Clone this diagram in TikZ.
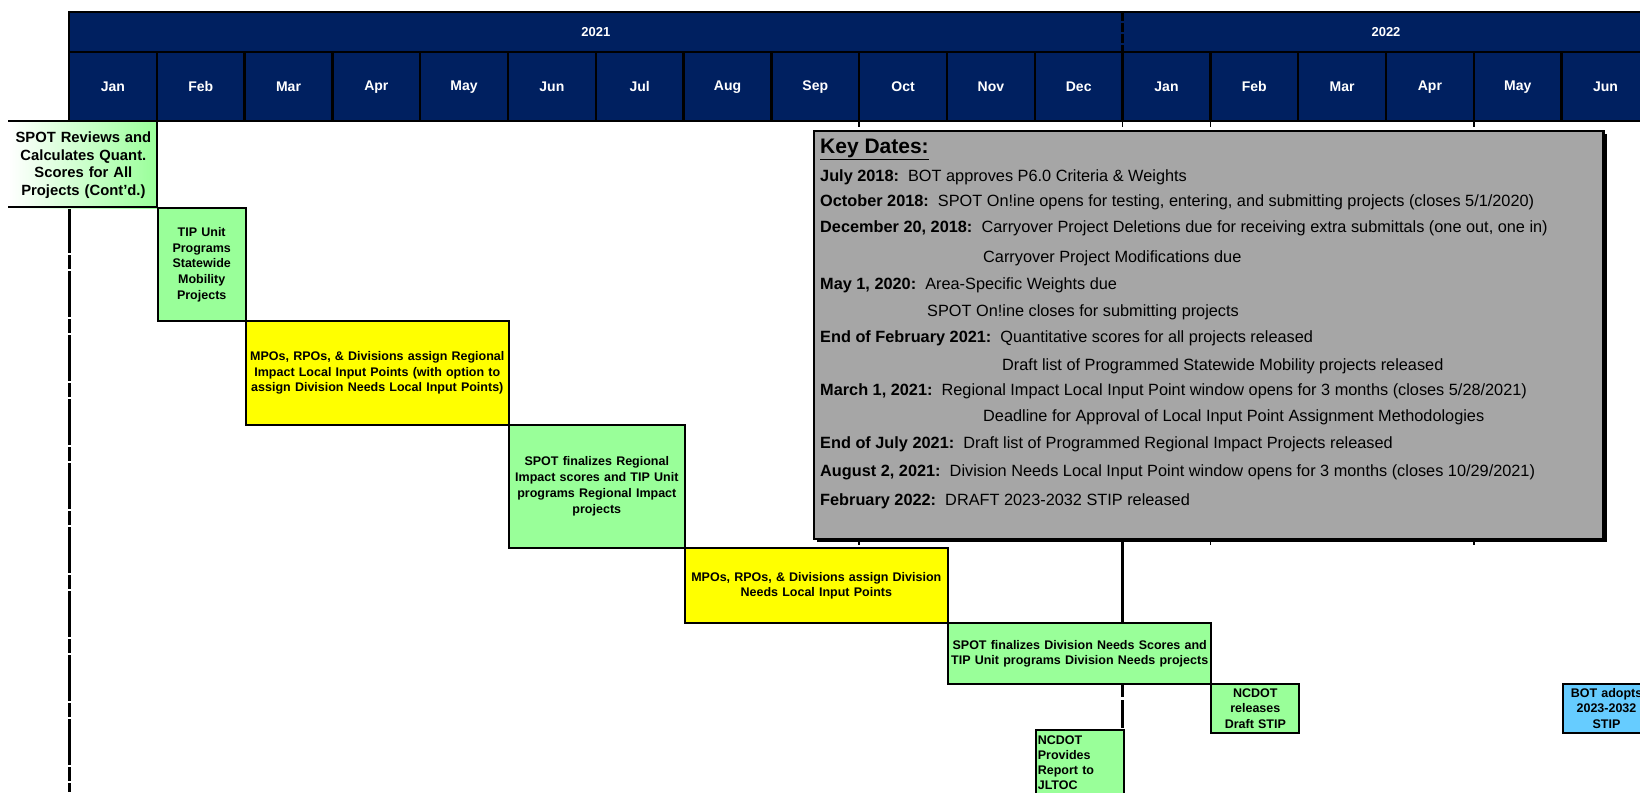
\documentclass[tikz,border=0pt]{standalone}
\usepackage{fontspec}
\setmainfont{Liberation Sans}
\usetikzlibrary{positioning}
\definecolor{hdrblue}{HTML}{002060}
\definecolor{stepgreen}{HTML}{99FF99}
\definecolor{stepyellow}{HTML}{FFFF00}
\definecolor{stepblue}{HTML}{66CCFF}
\definecolor{keygray}{HTML}{A6A6A6}
\tikzset{
	year/.style={text=white, font=\bfseries\fontsize{13}{15}\selectfont},
	month/.style={text=white, font=\bfseries\fontsize{14}{16}\selectfont},
	task/.style={draw=black, line width=2pt, anchor=north west, align=center, inner sep=2pt, font=\bfseries\fontsize{12.5}{15.7}\selectfont},
	keyline/.style={anchor=base west, inner sep=0pt, font=\fontsize{16.3}{19}\selectfont},
	tick/.style={line width=1.5pt}
}
\newcommand{\taskbox}[7]% name, left, top, right, bottom, look, text
{\pgfmathsetmacro{\bw}{#4-#2}\pgfmathsetmacro{\bh}{#5-#3}\pgfmathsetmacro{\tw}{#4-#2-4}
\node[task, #6, minimum width=\bw pt, minimum height=\bh pt, text width=\tw pt] (#1) at (#2,#3) {#7};
}

\begin{document}
\begin{tikzpicture}[x=1pt,y=-1pt]
	\useasboundingbox (0,0) rectangle (1640,792);
	\clip (0,0) rectangle (1640,792);
	% header
	\fill[hdrblue] (69,12.5) rectangle (1649.4,121);
	\draw[line width=2pt] (69,12.5) rectangle (1649.4,121);
	\draw[line width=2pt] (69,52.3) -- (1649.4,52.3);
	\foreach \i in {1,...,17}
		\draw[line width=2.5pt] ({69+87.8*\i},52.3) -- ({69+87.8*\i},121);
	\draw[line width=2.5pt, dash pattern=on 9pt off 2pt] (1122.6,12.5) -- (1122.6,52.3);
	\node[year] (y1) at (595.8,32.4){2021};
	\node[year] (y2) at (1386,32.4){2022};
	\foreach \m [count=\i from 0] in {Jan,Feb,Mar,Apr,May,Jun,Jul,Aug,Sep,Oct,Nov,Dec,Jan,Feb,Mar,Apr,May,Jun}
		\node[month] (m\i) at ({69+87.8*(\i+0.5)},86.7){\m};
	% grid remains
	\draw[line width=2pt] (8,121) -- (69,121);
	\draw[line width=3pt, dash pattern=on 46pt off 2pt on 14pt off 2pt] (69,207) -- (69,792);
	\foreach \x in {859.2,1122.6,1210.4,1473.8}{
		\draw[tick] (\x,121) -- (\x,127);
		\draw[tick] (\x,538) -- (\x,545);
	}
	\draw[line width=3pt] (1122.6,538) -- (1122.6,622.3);
	\draw[line width=3pt, dash pattern=on 14pt off 3pt on 28pt off 3pt] (1122.6,683) -- (1122.6,792);
	% steps
	\taskbox{rev}{8}{121}{156.8}{207}{draw=none, left color=white, right color=stepgreen, font=\bfseries\fontsize{14.8}{17.5}\selectfont}{SPOT Reviews and\\Calculates Quant.\\Scores for All\\Projects (Cont'd.)}
	\draw[line width=2.5pt] (8,207) -- (156.8,207) -- (156.8,121);
	\taskbox{tip}{156.8}{207}{244.6}{320}{fill=stepgreen}{TIP Unit\\Programs\\Statewide\\Mobility\\Projects}
	\taskbox{mpor}{244.6}{320}{508}{423.6}{fill=stepyellow}{MPOs, RPOs, \& Divisions assign Regional\\Impact Local Input Points (with option to\\assign Division Needs Local Input Points)}
	\taskbox{spotr}{508}{423.6}{683.6}{547}{fill=stepgreen}{SPOT finalizes Regional\\Impact scores and TIP Unit\\programs Regional Impact\\projects}
	\taskbox{mpod}{683.6}{547}{947}{622.3}{fill=stepyellow}{MPOs, RPOs, \& Divisions assign Division\\Needs Local Input Points}
	\taskbox{spotd}{947}{622.3}{1210.4}{683}{fill=stepgreen}{SPOT finalizes Division Needs Scores and\\TIP Unit programs Division Needs projects}
	\taskbox{rel}{1210.4}{683}{1298.2}{732}{fill=stepgreen}{NCDOT\\releases\\Draft STIP}
	\taskbox{rep}{1034.8}{729}{1122.6}{795}{fill=stepgreen, align=left, inner sep=1pt, font=\bfseries\fontsize{12.5}{15}\selectfont}{NCDOT\\Provides\\Report to\\JLTOC}
	\taskbox{bot}{1561.6}{683}{1649.4}{732}{fill=stepblue}{BOT adopts\\2023-2032\\STIP}
	% key dates
	\fill (817,134) rectangle (1607,542);
	\node[draw=black, line width=2.5pt, fill=keygray, anchor=north west, minimum width=789.6pt, minimum height=407.9pt] (key) at (812.7,129.7){};
	\node[keyline, font=\bfseries\fontsize{21}{24}\selectfont] (kd0) at (820,153){\underline{Key Dates:}};%title
	\node[keyline] (kd1) at (820,181){\textbf{July 2018:}\ \ BOT approves P6.0 Criteria \& Weights};
	\node[keyline] (kd2) at (820,206){\textbf{October 2018:}\ \ SPOT On!ine opens for testing, entering, and submitting projects (closes 5/1/2020)};
	\node[keyline] (kd3) at (820,232){\textbf{December 20, 2018:}\ \ Carryover Project Deletions due for receiving extra submittals (one out, one in)};
	\node[keyline] (kd4) at (983,262.5){Carryover Project Modifications due};
	\node[keyline] (kd5) at (820,289.5){\textbf{May 1, 2020:}\ \ Area-Specific Weights due};
	\node[keyline] (kd6) at (927,316.5){SPOT On!ine closes for submitting projects};
	\node[keyline] (kd7) at (820,342){\textbf{End of February 2021:}\ \ Quantitative scores for all projects released};
	\node[keyline] (kd8) at (1002,370){Draft list of Programmed Statewide Mobility projects released};
	\node[keyline] (kd9) at (820,395){\textbf{March 1, 2021:}\ \ Regional Impact Local Input Point window opens for 3 months (closes 5/28/2021)};
	\node[keyline] (kd10) at (983,421){Deadline for Approval of Local Input Point Assignment Methodologies};
	\node[keyline] (kd11) at (820,448.5){\textbf{End of July 2021:}\ \ Draft list of Programmed Regional Impact Projects released};
	\node[keyline] (kd12) at (820,476.5){\textbf{August 2, 2021:}\ \ Division Needs Local Input Point window opens for 3 months (closes 10/29/2021)};
	\node[keyline] (kd13) at (820,505){\textbf{February 2022:}\ \ DRAFT 2023-2032 STIP released};
\end{tikzpicture}
\end{document}
